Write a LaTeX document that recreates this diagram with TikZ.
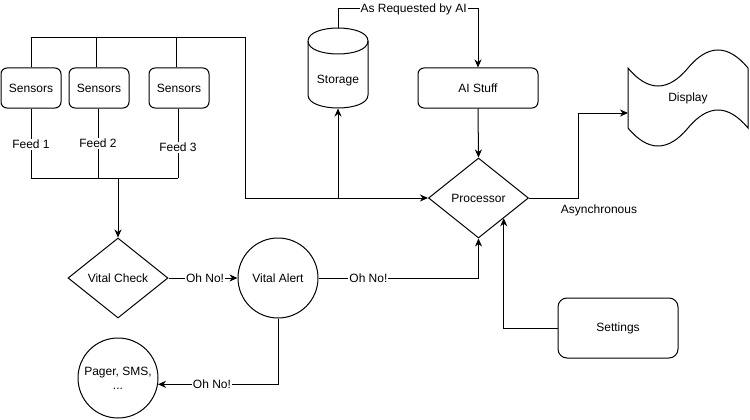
\documentclass[tikz,border=0pt]{standalone}
\usepackage{fontspec}
\setmainfont{Liberation Sans}
\usetikzlibrary{shapes.geometric,arrows.meta,calc}
\begin{document}
\begin{tikzpicture}[x=1pt,y=-1pt,line width=1pt,
  every node/.style={font=\fontsize{12}{14}\selectfont,inner sep=0pt},
  arr/.style={-{Stealth[length=8pt,width=7pt,inset=2.5pt]}},
  box/.style={draw,rounded corners=6pt,minimum width=60pt,minimum height=40pt},
  lbl/.style={fill=white,inner sep=1pt},
  dia/.style={draw,diamond,minimum width=100pt,minimum height=80pt},
  circ/.style={draw,circle,minimum size=80pt,align=center}]
\useasboundingbox (0,0) rectangle (750,420);

% nodes
\node[box] (s1) at (31,88) {Sensors};
\node[box] (s2) at (99,88) {Sensors};
\node[box] (s3) at (179,88) {Sensors};
\node[dia] (vc) at (118,278) {Vital Check};
\node[circ] (va) at (278,278) {Vital Alert};
\node[circ] (pager) at (118,378) {Pager, SMS,\\...};
\node[dia] (proc) at (478.5,198) {Processor};
\node[box,minimum width=120pt] (ai) at (478,88) {AI Stuff};
\node[box,minimum width=120pt,minimum height=60pt,rounded corners=9pt] (sett) at (618,328) {Settings};
\node[minimum width=60pt,minimum height=54pt] (stor) at (338,81) {Storage};
\node[minimum width=120pt,minimum height=60pt] (disp) at (688,98) {Display};

% storage cylinder
\draw (308,41) .. controls (308,23.67) and (368,23.67) .. (368,41)
  -- (368,95) .. controls (368,112.33) and (308,112.33) .. (308,95) -- cycle;
\draw (308,41) .. controls (308,58.33) and (368,58.33) .. (368,41);

% display tape
\draw (628,68) .. controls (648,92) and (668,92) .. (688,68)
  .. controls (708,44) and (728,44) .. (748,68)
  -- (748,128) .. controls (728,104) and (708,104) .. (688,128)
  .. controls (668,152) and (648,152) .. (628,128) -- cycle;

% coordinates
\coordinate (busR) at (245,38);
\coordinate (busS) at (338,198);
\coordinate (fb1) at (31,178);
\coordinate (fb3) at (178,178);
\coordinate (fbm) at (118,178);
\coordinate (stortop) at (338,28);
\coordinate (rq1) at (338,9);
\coordinate (rq2) at (478,9);
\coordinate (dispin) at (628,113);
\coordinate (turn) at (578,198);

% sensor bus
\draw[arr] (s1.north) |- (busR) |- (proc.west);
\draw ([xshift=-3pt]s2.north) -- ([xshift=-3pt]s2.north |- busR);
\draw ([xshift=-3pt]s3.north) -- ([xshift=-3pt]s3.north |- busR);
\draw[arr] (busS) -- (stor.south);

% feeds
\draw (s1.south) -- node[lbl,pos=0.514] {Feed 1} (fb1) -- (fb3);
\draw ([xshift=-1pt]s2.south) -- node[lbl,pos=0.5] {Feed 2} ([xshift=-1pt]s2.south |- fb1);
\draw ([xshift=-1pt]s3.south) -- node[lbl,pos=0.557] {Feed 3} (fb3);
\draw[arr] (fbm) -- (vc.north);

% storage to AI
\draw[arr] (stortop) -- (rq1) -- node[lbl,pos=0.54] {As Requested by AI} (rq2) -- (ai.north);
\draw[arr] (ai.south) -- (proc.north);

% processor to display
\draw[arr] (proc.east) -- (turn) |- (dispin);
\node at (599,210.5) {Asynchronous};

% alerts
\draw[arr] (vc.east) -- node[lbl,pos=0.53] {Oh No!} (va.west);
\draw[arr] (va.east) -| node[lbl,pos=0.156] {Oh No!} (proc.south);
\draw[arr] (va.south) |- node[lbl,pos=0.775] {Oh No!} (pager.-9);

% settings
\draw[arr] (sett.west) -| ($(proc.east)!0.5!(proc.south)$);
\end{tikzpicture}
\end{document}
